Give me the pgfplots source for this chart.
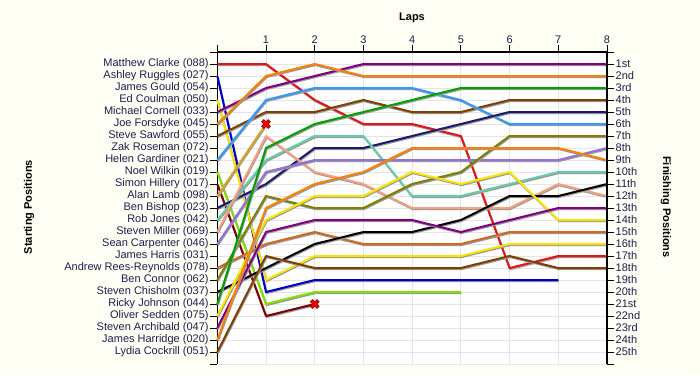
\documentclass[border=0pt]{standalone}
\usepackage{fontspec}
\setmainfont{Liberation Sans}
\usepackage{pgfplots}
\pgfplotsset{compat=1.18}
\definecolor{bgc}{RGB}{254,254,244}
\definecolor{labcol}{RGB}{31,31,79}
\definecolor{cRed}{RGB}{230,20,20}
\definecolor{cBlue}{RGB}{0,0,205}
\definecolor{cYellow}{RGB}{250,228,0}
\definecolor{cPurple}{RGB}{128,0,128}
\definecolor{cOrange}{RGB}{255,128,0}
\definecolor{cBrown}{RGB}{128,64,0}
\definecolor{cDodger}{RGB}{51,153,255}
\definecolor{cYGreen}{RGB}{128,224,0}
\definecolor{cDarkRed}{RGB}{128,0,0}
\definecolor{cGold}{RGB}{218,165,32}
\definecolor{cNavy}{RGB}{25,25,112}
\definecolor{cAqua}{RGB}{102,205,170}
\definecolor{cSalmon}{RGB}{250,160,122}
\definecolor{cMedPurple}{RGB}{147,112,219}
\definecolor{cPeru}{RGB}{210,105,30}
\definecolor{cOlive}{RGB}{128,128,0}
\definecolor{cGreen}{RGB}{0,160,0}
\tikzset{ser/.style={draw=#1, line width=2pt, line join=round,
  preaction={draw=black!40, line width=2pt, transform canvas={xshift=0.6pt,yshift=-1.1pt}}}}
\begin{document}
\begin{tikzpicture}[x=1pt,y=1pt]
\path[use as bounding box, fill=bgc] (0,0) rectangle (700,375);
\node[font=\fontsize{11}{13}\selectfont\bfseries] at (412,357) {Laps};
\node[font=\fontsize{11}{13}\selectfont\bfseries, rotate=90] at (29,168) {Starting Positions};
\node[font=\fontsize{11}{13}\selectfont\bfseries, rotate=-90] at (666,168) {Finishing Positions};
\begin{axis}[
  at={(217.3pt,11pt)}, anchor=south west,
  scale only axis, width=389.7pt, height=312pt,
  xmin=0, xmax=8, ymin=0, ymax=26, y dir=reverse,
  axis x line*=top, axis y line*=left,
  xtick={0,...,8}, xticklabels={,1,2,3,4,5,6,7,8},
  ytick={0,...,26},
  yticklabels={,Matthew Clarke (088),Ashley Ruggles (027),James Gould (054),Ed Coulman (050),Michael Cornell (033),Joe Forsdyke (045),Steve Sawford (055),Zak Roseman (072),Helen Gardiner (021),Noel Wilkin (019),Simon Hillery (017),Alan Lamb (098),Ben Bishop (023),Rob Jones (042),Steven Miller (069),Sean Carpenter (046),James Harris (031),Andrew Rees-Reynolds (078),Ben Connor (062),Steven Chisholm (037),Ricky Johnson (044),Oliver Sedden (075),Steven Archibald (047),James Harridge (020),Lydia Cockrill (051),},
  tick align=outside, major tick length=7pt,
  tick style={black, line width=1pt},
  axis line style={black, line width=1.3pt},
  grid=major, major grid style={draw=black!10, line width=0.8pt},
  tick label style={font=\fontsize{11}{13}\selectfont, text=labcol},
  yticklabel style={inner xsep=1.5pt},
  xticklabel style={inner ysep=1.5pt},
  axis background/.style={fill=white},
  clip=false,
]
% Matthew Clarke
\addplot[ser=cRed] coordinates {(0,1)(1,1)(2,4)(3,6)(4,6)(5,7)(6,18)(7,17)(8,17)};
% Ashley Ruggles
\addplot[ser=cBlue] coordinates {(0,2)(1,20)(2,19)(3,19)(4,19)(5,19)(6,19)(7,19)};
% Ed Coulman
\addplot[ser=cYellow] coordinates {(0,4)(1,19)(2,17)(3,17)(4,17)(5,17)(6,16)(7,16)(8,16)};
% Michael Cornell
\addplot[ser=cPurple] coordinates {(0,5)(1,3)(2,2)(3,1)(4,1)(5,1)(6,1)(7,1)(8,1)};
% Joe Forsdyke
\addplot[ser=cOrange] coordinates {(0,6)(1,2)(2,1)(3,2)(4,2)(5,2)(6,2)(7,2)(8,2)};
% Steve Sawford
\addplot[ser=cBrown] coordinates {(0,7)(1,5)(2,5)(3,4)(4,5)(5,5)(6,4)(7,4)(8,4)};
% Helen Gardiner
\addplot[ser=cDodger] coordinates {(0,9)(1,4)(2,3)(3,3)(4,3)(5,4)(6,6)(7,6)(8,6)};
% Noel Wilkin
\addplot[ser=cYGreen] coordinates {(0,10)(1,21)(2,20)(3,20)(4,20)(5,20)};
% Simon Hillery
\addplot[ser=cDarkRed] coordinates {(0,11)(1,22)(2,21)};
% Alan Lamb
\addplot[ser=cGold] coordinates {(0,12)(1,6)};
% Ben Bishop
\addplot[ser=cNavy] coordinates {(0,13)(1,11)(2,8)(3,8)(4,7)(5,6)(6,5)(7,5)(8,5)};
% Rob Jones
\addplot[ser=cAqua] coordinates {(0,14)(1,9)(2,7)(3,7)(4,12)(5,12)(6,11)(7,10)(8,10)};
% Steven Miller
\addplot[ser=cSalmon] coordinates {(0,15)(1,7)(2,10)(3,11)(4,13)(5,13)(6,13)(7,11)(8,12)};
% Sean Carpenter
\addplot[ser=cMedPurple] coordinates {(0,16)(1,10)(2,9)(3,9)(4,9)(5,9)(6,9)(7,9)(8,8)};
% Andrew Rees-Reynolds
\addplot[ser=cPeru] coordinates {(0,18)(1,16)(2,15)(3,16)(4,16)(5,16)(6,15)(7,15)(8,15)};
% Ben Connor
\addplot[ser=cOlive] coordinates {(0,19)(1,12)(2,13)(3,13)(4,11)(5,10)(6,7)(7,7)(8,7)};
% Steven Chisholm
\addplot[ser=black] coordinates {(0,20)(1,18)(2,16)(3,15)(4,15)(5,14)(6,12)(7,12)(8,11)};
% Ricky Johnson
\addplot[ser=cGreen] coordinates {(0,21)(1,8)(2,6)(3,5)(4,4)(5,3)(6,3)(7,3)(8,3)};
% Oliver Sedden
\addplot[ser=cYellow] coordinates {(0,22)(1,14)(2,12)(3,12)(4,10)(5,11)(6,10)(7,14)(8,14)};
% Steven Archibald
\addplot[ser=cPurple] coordinates {(0,23)(1,15)(2,14)(3,14)(4,14)(5,15)(6,14)(7,13)(8,13)};
% James Harridge
\addplot[ser=cOrange] coordinates {(0,24)(1,13)(2,11)(3,10)(4,8)(5,8)(6,8)(7,8)(8,9)};
% Lydia Cockrill
\addplot[ser=cBrown] coordinates {(0,25)(1,17)(2,18)(3,18)(4,18)(5,18)(6,17)(7,18)(8,18)};
% retirements
\addplot[only marks, mark=x, mark size=5pt, draw=cDarkRed, line width=3.8pt] coordinates {(1,6)(2,21)};
\addplot[only marks, mark=x, mark size=4.4pt, draw=red, line width=2.2pt] coordinates {(1,6)(2,21)};
\end{axis}
\begin{axis}[
  at={(217.3pt,11pt)}, anchor=south west,
  scale only axis, width=389.7pt, height=312pt,
  xmin=0, xmax=8, ymin=0, ymax=26, y dir=reverse,
  axis x line=none, axis y line*=right,
  ytick={0,...,26},
  yticklabels={,1st,2nd,3rd,4th,5th,6th,7th,8th,9th,10th,11th,12th,13th,14th,15th,16th,17th,18th,19th,20th,21st,22nd,23rd,24th,25th,},
  tick align=outside, major tick length=7pt,
  tick style={black, line width=1pt},
  axis line style={black, line width=1.3pt},
  tick label style={font=\fontsize{11}{13}\selectfont, text=labcol},
  yticklabel style={inner xsep=1.5pt},
]
\end{axis}
\end{tikzpicture}
\end{document}
